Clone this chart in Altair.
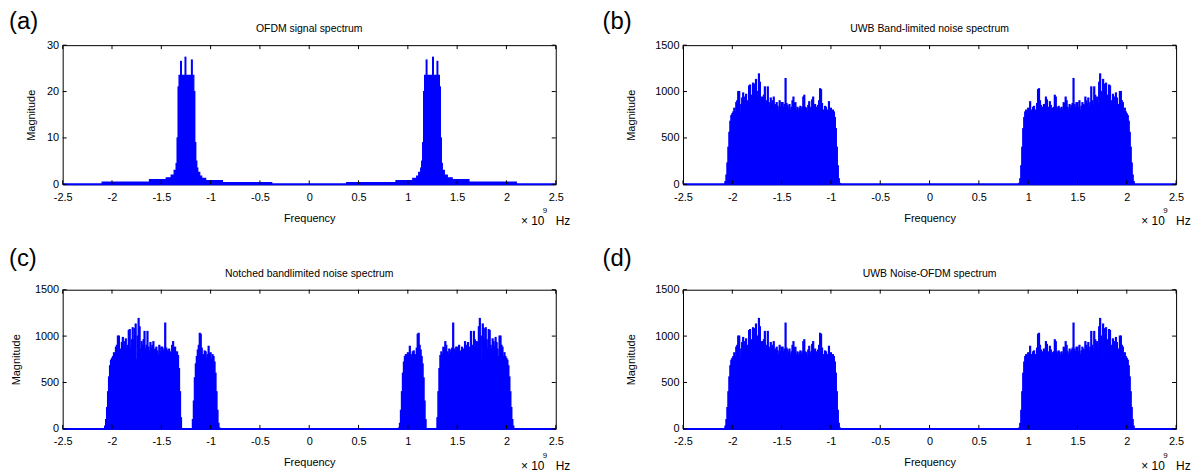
import altair as alt
import pandas as pd

FONT = "Liberation Sans"
BLUE = "#0000ff"
W, H = 496, 140

X_TICKS = [-2.5, -2, -1.5, -1, -0.5, 0, 0.5, 1, 1.5, 2, 2.5]
Y_TICKS_OFDM = [0, 10, 20, 30]
Y_TICKS_NOISE = [0, 500, 1000, 1500]

TITLES = ["OFDM signal spectrum", "UWB Band-limited noise spectrum",
          "Notched bandlimited noise spectrum", "UWB Noise-OFDM spectrum"]
LETTERS = ["(a)", "(b)", "(c)", "(d)"]

# OFDM spectrum, positive frequencies (GHz) as segments; mirrored for negative side
OFDM_LO = [0.38, 0.88, 1.05, 1.09, 1.11, 1.13, 1.14, 1.15, 1.16, 1.17, 1.186, 1.194, 1.251, 1.259, 1.296, 1.304, 1.32, 1.33, 1.34, 1.35, 1.37, 1.40, 1.45, 1.62]
OFDM_HI = [0.88, 1.05, 1.09, 1.11, 1.13, 1.14, 1.15, 1.16, 1.17, 1.186, 1.194, 1.251, 1.259, 1.296, 1.304, 1.32, 1.33, 1.34, 1.35, 1.37, 1.40, 1.45, 1.62, 2.10]
OFDM_MAG = [0.4, 0.8, 1.3, 1.8, 2.6, 3.5, 5.0, 9.0, 20.0, 23.5, 26.8, 23.5, 27.4, 23.5, 26.5, 23.5, 21.0, 10.0, 4.5, 3.0, 2.0, 1.4, 1.0, 0.5]

# Band-limited noise magnitude, positive frequencies 0.90 ... 2.08 GHz (0.01 GHz bins)
NOISE_MAG = [
    0, 10, 60, 200, 400, 600, 720, 780, 800, 760,
    820, 810, 890, 800, 760, 830, 840, 800, 790, 870,
    1020, 1030, 900, 850, 780, 830, 860, 820, 940, 910,
    830, 800, 890, 850, 780, 820, 830, 960, 940, 830,
    800, 840, 820, 790, 830, 800, 880, 870, 940, 900,
    830, 800, 860, 820, 850, 870, 1140, 860, 830, 880,
    880, 830, 900, 800, 840, 880, 860, 850, 940, 900,
    870, 930, 840, 880, 1050, 900, 860, 1050, 960, 900,
    940, 860, 1100, 1190, 1000, 750, 1130, 1080, 960, 1090,
    960, 870, 1070, 1060, 900, 860, 970, 940, 890, 985,
    930, 860, 780, 1000, 1000, 900, 880, 780, 820, 780,
    760, 740, 680, 560, 400, 230, 100, 30, 0,
]
NOISE_FREQ = [round(0.90 + 0.01 * i, 2) for i in range(len(NOISE_MAG))]

# Notched noise: values replaced around the OFDM band
NOTCH_FREQ = [1.15, 1.16, 1.17, 1.18, 1.19, 1.20, 1.21, 1.22, 1.23, 1.24, 1.25,
              1.26, 1.27, 1.28, 1.29, 1.30, 1.31, 1.32]
NOTCH_MAG = [700, 550, 300, 100, 0, 0, 0, 0, 0, 0, 0, 0, 0, 0, 0, 120, 400, 650]


def ofdm_frame():
    rows = []
    for lo, hi, m in zip(OFDM_LO, OFDM_HI, OFDM_MAG):
        rows.append({"lo": lo, "hi": hi, "mag": m})
        rows.append({"lo": -hi, "hi": -lo, "mag": m})
    return pd.DataFrame(rows)


def noise_frame(freqs, mags):
    rows = []
    for f, m in zip(freqs, mags):
        rows.append({"lo": f - 0.005, "hi": f + 0.005, "mag": m})
        rows.append({"lo": -f - 0.005, "hi": -f + 0.005, "mag": m})
    return pd.DataFrame(rows)


notch = dict(zip(NOTCH_FREQ, NOTCH_MAG))
c_mags = [notch.get(f, m) for f, m in zip(NOISE_FREQ, NOISE_MAG)]

df_a = ofdm_frame()
df_b = noise_frame(NOISE_FREQ, NOISE_MAG)
df_c = noise_frame(NOISE_FREQ, c_mags)
df_d = pd.concat([noise_frame(NOISE_FREQ, NOISE_MAG), ofdm_frame()], ignore_index=True)


def panel(df, ymax, yticks, title, letter, ytp, letter_y):
    xs = alt.Scale(domain=[-2.5, 2.5], nice=False, zero=False)
    ys = alt.Scale(domain=[0, ymax], nice=False, zero=True)
    xaxis = alt.Axis(values=X_TICKS, labelExpr="'' + datum.value", ticks=False, domain=False,
                     grid=False, labelFlush=False, labelOverlap=False, labelPadding=7,
                     labelFontSize=11, labelFont=FONT, labelColor="black",
                     title="Frequency", titleFont=FONT, titleFontSize=11,
                     titleFontWeight="normal", titleColor="black", titlePadding=10)
    yaxis = alt.Axis(values=yticks, labelExpr="'' + datum.value", ticks=False, domain=False,
                     grid=False, labelPadding=4,
                     labelFontSize=11, labelFont=FONT, labelColor="black",
                     title="Magnitude", titleFont=FONT, titleFontSize=11,
                     titleFontWeight="normal", titleColor="black", titlePadding=ytp)
    bars = alt.Chart(df).mark_rect(color=BLUE, stroke=BLUE, strokeWidth=1.2).encode(
        x=alt.X("lo:Q", scale=xs, axis=xaxis, title="Frequency"),
        x2="hi:Q",
        y=alt.Y("mag:Q", scale=ys, axis=yaxis, title="Magnitude"),
        y2=alt.datum(0),
    )
    base = alt.Chart(pd.DataFrame({"lo": [-2.5], "hi": [2.5], "mag": [0]})).mark_rule(
        color=BLUE, strokeWidth=2).encode(x="lo:Q", x2="hi:Q", y="mag:Q")
    xt = pd.DataFrame({"lo": X_TICKS})
    yt = pd.DataFrame({"mag": yticks})
    xb = alt.Chart(xt).mark_rule(color="black").encode(x="lo:Q", y=alt.value(H), y2=alt.value(H - 4))
    xtop = alt.Chart(xt).mark_rule(color="black").encode(x="lo:Q", y=alt.value(0), y2=alt.value(4))
    yl = alt.Chart(yt).mark_rule(color="black").encode(y="mag:Q", x=alt.value(0), x2=alt.value(4))
    yr = alt.Chart(yt).mark_rule(color="black").encode(y="mag:Q", x=alt.value(W - 4), x2=alt.value(W))
    one = pd.DataFrame({"s": [0]})
    ttl = alt.Chart(one).mark_text(text=title, font=FONT, fontSize=10.5, color="black").encode(
        x=alt.value(W / 2), y=alt.value(-16))
    let = alt.Chart(one).mark_text(text=letter, font=FONT, fontSize=24, color="black",
                                   align="left", baseline="top").encode(
        x=alt.value(-54 if letter in ("(a)", "(c)") else -81), y=alt.value(letter_y))
    unit = alt.Chart(one).mark_text(text="× 10", font=FONT, fontSize=12, color="black",
                                    align="left", baseline="middle").encode(
        x=alt.value(461), y=alt.value(H + 37))
    sup = alt.Chart(one).mark_text(text="9", font=FONT, fontSize=8, color="black",
                                   align="left", baseline="middle").encode(
        x=alt.value(483), y=alt.value(H + 27))
    hz = alt.Chart(one).mark_text(text="Hz", font=FONT, fontSize=12, color="black",
                                  align="left", baseline="middle").encode(
        x=alt.value(496), y=alt.value(H + 37))
    return alt.layer(bars, base, xb, xtop, yl, yr, ttl, let, unit, sup, hz).properties(width=W, height=H)


pa = panel(df_a, 30, Y_TICKS_OFDM, TITLES[0], LETTERS[0], 10, -35)
pb = panel(df_b, 1500, Y_TICKS_NOISE, TITLES[1], LETTERS[1], 18, -35)
pc = panel(df_c, 1500, Y_TICKS_NOISE, TITLES[2], LETTERS[2], 13, -43)
pd_ = panel(df_d, 1500, Y_TICKS_NOISE, TITLES[3], LETTERS[3], 18, -43)

chart = alt.concat(pa, pb, pc, pd_, columns=2, spacing={"row": 106, "column": 128},
                   bounds="flush").properties(padding=0, background="white").configure_view(
    stroke="black", strokeWidth=1)

chart.save("out.html", embed_options={"renderer": "svg", "actions": False})
